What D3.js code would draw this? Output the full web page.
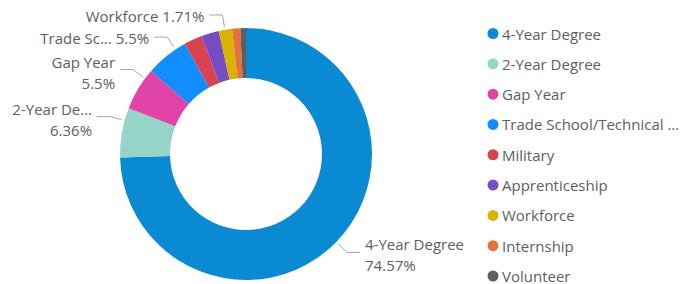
<!DOCTYPE html>
<html><head><meta charset="utf-8">
<script src="https://cdn.jsdelivr.net/npm/d3@7"></script>
<style>body{margin:0;background:#fff} text{font-family:"Open Sans",sans-serif}</style>
</head>
<body><svg id="c" width="681" height="284"></svg>
<script>
const categories = ["4-Year Degree","2-Year Degree","Gap Year","Trade School/Technical School","Military","Apprenticeship","Workforce","Internship","Volunteer"];
const values = [74.57,6.36,5.5,5.5,2.33,2.26,1.71,1.05,0.72];
const colors = ["#0B8AD4","#95D5C8","#E044A7","#118DFF","#D9424F","#744EC2","#D9B300","#E8703A","#5E5E5E"];
// which slices carry a data label, where on the slice the leader points (fraction), lines, truncation
const labelSlices = ["4-Year Degree","2-Year Degree","Gap Year","Trade School/Technical School","Workforce"];
const labelFrac = [0.5,0.74,0.78,0.75,0.47];
const labelTwoLine = [true,true,true,false,false];
const labelChars = [null,9,null,8,null];

const svg = d3.select("#c");
const cx = 246, cy = 154, R = 126, r0 = 76;
const textColor = "#605E5C";
const fs = 15;

const data = categories.map((c,i)=>({name:c, value:values[i]}));
const color = d3.scaleOrdinal().domain(categories).range(colors);
const pie = d3.pie().value(d=>d.value).sort(null);
const arcs = pie(data);
const arc = d3.arc().innerRadius(r0).outerRadius(R);

const g = svg.append("g").attr("transform",`translate(${cx},${cy})`);
g.selectAll("path.slice").data(arcs).enter().append("path")
  .attr("class","slice").attr("d",arc).attr("fill",d=>color(d.data.name));

function pt(a, rad){ return [Math.sin(a)*rad, -Math.cos(a)*rad]; }
function trunc(s,n){ return n==null ? s : s.slice(0,n)+"..."; }

labelSlices.forEach((name,i)=>{
  const d = arcs.find(a=>a.data.name===name);
  const a = d.startAngle + (d.endAngle-d.startAngle)*labelFrac[i];
  const p0 = pt(a, R+3), p1 = pt(a, R+15);
  const right = Math.sin(a) > 0;
  const p2 = [p1[0] + (right?13:-13), p1[1]];
  g.append("polyline").attr("points",[p0,p1,p2].map(p=>p.join(",")).join(" "))
    .attr("fill","none").attr("stroke","#A6A6A6").attr("stroke-width",1);
  const tx = p2[0] + (right?5:-5);
  const anchor = right ? "start" : "end";
  const label = trunc(name, labelChars[i]);
  const pct = d.data.value + "%";
  if (labelTwoLine[i]) {
    g.append("text").attr("x",tx).attr("y",p1[1]-8).attr("text-anchor",anchor)
      .attr("dominant-baseline","central").attr("font-size",fs).attr("fill",textColor).text(label);
    g.append("text").attr("x",tx).attr("y",p1[1]+13).attr("text-anchor",anchor)
      .attr("dominant-baseline","central").attr("font-size",fs).attr("fill",textColor).text(pct);
  } else {
    g.append("text").attr("x",tx).attr("y",p1[1]+1).attr("text-anchor",anchor)
      .attr("dominant-baseline","central").attr("font-size",fs).attr("fill",textColor).text(label+" "+pct);
  }
});

// legend
const legY = d3.scalePoint().domain(categories).range([33.5, 276]);
const leg = svg.append("g");
const items = leg.selectAll("g").data(categories).enter().append("g")
  .attr("transform",d=>`translate(493,${legY(d)})`);
items.append("circle").attr("r",5.5).attr("fill",d=>color(d));
const maxLegW = 180;
items.append("text").attr("x",9).attr("dominant-baseline","central")
  .attr("font-size",fs).attr("fill",textColor)
  .each(function(d){
    const t = d3.select(this).text(d);
    if (this.getComputedTextLength() > maxLegW) {
      let s = d;
      while (s.length>0) {
        s = s.slice(0,-1);
        t.text(s.trimEnd()+" ...");
        if (this.getComputedTextLength() <= maxLegW) break;
      }
    }
  });
</script>
</body></html>
